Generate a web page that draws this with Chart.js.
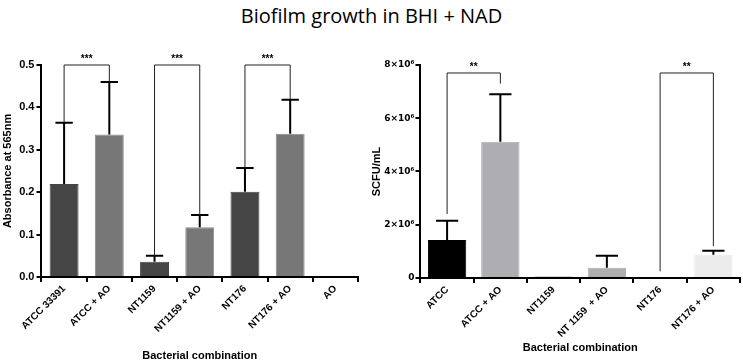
<!DOCTYPE html>
<html lang="en">
<head>
  <meta charset="UTF-8">
  <title>Biofilm growth in BHI + NAD</title>
  <script src="https://cdn.jsdelivr.net/npm/chart.js"></script>
  <style>
    body { margin: 0; background: #fff; width: 743px; height: 364px; position: relative; overflow: hidden; }
    #title { position: absolute; left: 0; top: 2px; width: 743px; text-align: center;
             font-family: "Open Sans", sans-serif; font-size: 20px; color: #000; }
    #leftBox { position: absolute; left: 0; top: 40px; }
    #rightBox { position: absolute; left: 368px; top: 40px; }
  </style>
</head>
<body>
  <div id="title">Biofilm growth in BHI + NAD</div>
  <div id="leftBox"><canvas id="leftChart" width="366" height="324"></canvas></div>
  <div id="rightBox"><canvas id="rightChart" width="375" height="324"></canvas></div>

  <script>
    // left panel: absorbance
    const leftLabels = ['ATCC 33391', 'ATCC + AO', 'NT1159', 'NT1159 + AO', 'NT176', 'NT176 + AO', 'AO'];
    const leftMeans = [0.219, 0.336, 0.036, 0.117, 0.201, 0.338, 0];
    const leftErrors = [0.145, 0.124, 0.014, 0.029, 0.056, 0.080, 0];
    const leftColors = ['#454545', '#777777', '#454545', '#777777', '#454545', '#777777', '#777777'];
    const leftBrackets = [[0, 1], [2, 3], [4, 5]];
    const leftBracketLegs = [[0.364, 0.46], [0.05, 0.146], [0.257, 0.418]];
    const leftBracketTop = 0.5;
    const leftStars = '***';

    // right panel: SCFU/mL
    const rightLabels = ['ATCC', 'ATCC + AO', 'NT1159', 'NT 1159  + AO', 'NT176', 'NT176 + AO'];
    const rightMeans = [1430000, 5120000, 50000, 380000, 0, 870000];
    const rightErrors = [720000, 1780000, 0, 450000, 0, 150000];
    const rightColors = ['#000000', '#aeaeb2', '#555555', '#aeaeb2', '#ffffff', '#ececec'];
    const rightBrackets = [[0, 1], [4, 5]];
    const rightBracketLegs = [[2400000, 7300000], [250000, 1200000]];
    const rightBracketTop = 7700000;
    const rightStars = '**';

    const fontFam = '"Liberation Sans", Arial, sans-serif';

    // error bars + significance brackets
    const extrasPlugin = {
      id: 'extras',
      afterDatasetsDraw(chart, args, opts) {
        const ctx = chart.ctx;
        const xs = chart.scales.x, ys = chart.scales.y;
        const meta = chart.getDatasetMeta(0);
        ctx.save();
        ctx.strokeStyle = '#000';
        ctx.lineWidth = 2;
        opts.means.forEach((m, i) => {
          const e = opts.errors[i];
          if (!e) return;
          const bar = meta.data[i];
          const cx = bar.x;
          const capHalf = bar.width * opts.capRatio / 2;
          const y0 = ys.getPixelForValue(m);
          const y1 = ys.getPixelForValue(m + e);
          ctx.beginPath();
          ctx.moveTo(cx, y0);
          ctx.lineTo(cx, y1);
          ctx.moveTo(cx - capHalf, y1);
          ctx.lineTo(cx + capHalf, y1);
          ctx.stroke();
        });
        ctx.lineWidth = 1;
        ctx.strokeStyle = '#222';
        ctx.fillStyle = '#000';
        ctx.font = 'bold 10px ' + fontFam;
        ctx.textAlign = 'center';
        ctx.textBaseline = 'bottom';
        opts.brackets.forEach((pair, k) => {
          const xa = xs.getPixelForValue(pair[0]);
          const xb = xs.getPixelForValue(pair[1]);
          const yt = ys.getPixelForValue(opts.top);
          const ya = ys.getPixelForValue(opts.legs[k][0]);
          const yb = ys.getPixelForValue(opts.legs[k][1]);
          ctx.beginPath();
          ctx.moveTo(xa, ya);
          ctx.lineTo(xa, yt);
          ctx.lineTo(xb, yt);
          ctx.lineTo(xb, yb);
          ctx.stroke();
          ctx.fillText(opts.stars, (xa + xb) / 2, yt - 1);
        });
        ctx.restore();
      }
    };

    function axisStyle() {
      return {
        grid: { drawOnChartArea: false, drawTicks: true, tickLength: 5, color: '#000', lineWidth: 2 },
        border: { color: '#000', width: 2 },
      };
    }

    function makeChart(id, labels, means, colors, barPct, yOpts, xTitlePad, pad, extras) {
      const xAxis = Object.assign(axisStyle(), {
        ticks: {
          color: '#000', maxRotation: 45, minRotation: 45, autoSkip: false, padding: 1,
          font: { family: fontFam, size: 10, weight: 'bold' }
        },
        title: {
          display: true, text: 'Bacterial combination', color: '#000',
          font: { family: fontFam, size: 11, weight: 'bold' }, padding: { top: xTitlePad, bottom: 0 }
        }
      });
      const yAxis = Object.assign(axisStyle(), yOpts);
      return new Chart(document.getElementById(id).getContext('2d'), {
        type: 'bar',
        data: {
          labels: labels,
          datasets: [{
            data: means,
            backgroundColor: colors,
            borderColor: colors.map(c => c === '#777777' ? '#8a8a8a' : c),
            borderWidth: 1,
            categoryPercentage: 1,
            barPercentage: barPct
          }]
        },
        options: {
          responsive: false,
          animation: false,
          layout: { padding: pad },
          plugins: { legend: { display: false }, tooltip: { enabled: false }, extras: extras },
          scales: { x: xAxis, y: yAxis }
        },
        plugins: [extrasPlugin]
      });
    }

    makeChart('leftChart', leftLabels, leftMeans, leftColors, 0.64, {
      min: 0, max: 0.5,
      ticks: { stepSize: 0.1, color: '#000', padding: 2, font: { family: fontFam, size: 11, weight: 'bold' },
               callback: v => v.toFixed(1) },
      title: { display: true, text: 'Absorbance at 565nm', color: '#000',
               font: { family: fontFam, size: 11, weight: 'bold' }, padding: { top: 0, bottom: 3 } }
    }, 14, { top: 25, right: 8, left: 1, bottom: 1 }, {
      means: leftMeans, errors: leftErrors, capRatio: 0.6,
      brackets: leftBrackets, legs: leftBracketLegs, top: leftBracketTop, stars: leftStars
    });

    makeChart('rightChart', rightLabels, rightMeans, rightColors, 0.72, {
      min: 0, max: 8000000,
      ticks: { stepSize: 2000000, color: '#000', padding: 1,
               font: { family: '"DejaVu Sans", sans-serif', size: 9, weight: 'bold' },
               callback: v => v === 0 ? '0' : (v / 1000000) + '×10⁶' },
      title: { display: true, text: 'SCFU/mL', color: '#000',
               font: { family: fontFam, size: 11, weight: 'bold' }, padding: { top: 0, bottom: 0 } }
    }, 1, { top: 25, right: 3, left: 2, bottom: 9 }, {
      means: rightMeans, errors: rightErrors, capRatio: 0.58,
      brackets: rightBrackets, legs: rightBracketLegs, top: rightBracketTop, stars: rightStars
    });
  </script>
</body>
</html>
